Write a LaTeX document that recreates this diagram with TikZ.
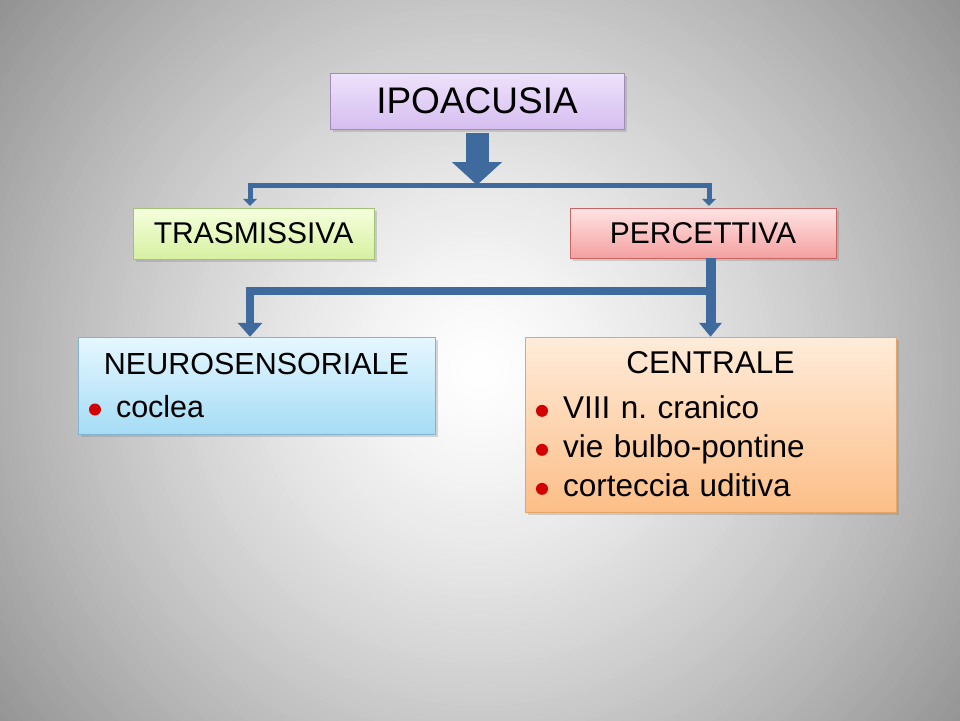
\documentclass[tikz,border=0pt]{standalone}
\usepackage{fontspec}
\setmainfont{Liberation Sans}
\usetikzlibrary{arrows.meta,positioning,shadows}

\definecolor{arrowblue}{RGB}{62,106,158}
\definecolor{dotred}{RGB}{210,0,0}
\definecolor{ipotop}{RGB}{238,226,251}
\definecolor{ipobot}{RGB}{214,190,240}
\definecolor{ipoline}{RGB}{160,140,185}
\definecolor{trastop}{RGB}{246,255,222}
\definecolor{trasbot}{RGB}{214,240,160}
\definecolor{trasline}{RGB}{160,195,120}
\definecolor{perctop}{RGB}{255,228,228}
\definecolor{percbot}{RGB}{244,160,160}
\definecolor{percline}{RGB}{200,100,100}
\definecolor{neurotop}{RGB}{230,247,255}
\definecolor{neurobot}{RGB}{165,220,245}
\definecolor{neuroline}{RGB}{130,180,210}
\definecolor{centrtop}{RGB}{255,236,218}
\definecolor{centrbot}{RGB}{252,190,135}
\definecolor{centrline}{RGB}{230,165,100}

\newcommand{\rdot}{\tikz[baseline=-8pt]\fill[dotred] (0,0) circle[radius=6pt];\hspace{15pt}}

\tikzset{
    box/.style={
           rectangle,
           draw, thin,
           inner sep=2pt,
           text centered,
           drop shadow={shadow xshift=3pt, shadow yshift=-3pt, opacity=0.3},
           },
    listbox/.style={
           box,
           align=left,
           inner xsep=11pt,
           },
    link/.style={draw=arrowblue, line width=5pt, -{Triangle[width=14pt,length=7pt]}},
    thicklink/.style={draw=arrowblue, line width=8pt, -{Triangle[width=24pt,length=14pt]}},
}

\begin{document}
\begin{tikzpicture}[x=1pt, y=1pt]
        % slide background: light centre, grey towards the edges
        \useasboundingbox (0,0) rectangle (960,-720);
        \begin{scope}
            \clip (0,0) rectangle (960,-720);
            \foreach \r in {726,720,...,6} {
                \pgfmathsetmacro\g{42*(\r/600)^1.3}
                \fill[black!\g] (480,-370) circle (\r pt);
            }
        \end{scope}

        \node[box, draw=ipoline, top color=ipotop, bottom color=ipobot, minimum width=294pt, minimum height=56pt, font=\fontsize{37}{44}\selectfont] (ipo) at (477,-101) {IPOACUSIA};
        \node[box, draw=trasline, top color=trastop, bottom color=trasbot, below of = ipo, node distance=132.5pt, xshift=-223.5pt, minimum width=241pt, minimum height=51pt, font=\fontsize{30}{36}\selectfont] (tras) {TRASMISSIVA};
        \node[box, draw=percline, top color=perctop, bottom color=percbot, below of = ipo, node distance=132pt, xshift=226pt, minimum width=266pt, minimum height=50pt, font=\fontsize{30}{36}\selectfont] (perc) {PERCETTIVA};
        \node[listbox, draw=neuroline, top color=neurotop, bottom color=neurobot, below of = tras, node distance=152pt, xshift=3pt, text width=335pt, minimum height=97pt, font=\fontsize{30.5}{39}\selectfont] (neuro)
            {\makebox[\hsize]{NEUROSENSORIALE}\\[4pt] \rdot coclea};
        \node[listbox, draw=centrline, top color=centrtop, bottom color=centrbot, below of = perc, node distance=191.5pt, xshift=7.5pt, text width=349pt, minimum height=175pt, font=\fontsize{31.5}{39}\selectfont] (centr)
            {\makebox[\hsize]{CENTRALE}\\[6pt] \rdot VIII n.\ cranico\\ \rdot vie bulbo-pontine\\ \rdot corteccia uditiva};

        \coordinate (fork1) at (477,-185);
        \coordinate (fork2) at (712,-291);

        \draw[draw=arrowblue, line width=23pt, -{Triangle[width=49pt,length=23pt]}] ([yshift=-4pt]ipo.south) -- (fork1);
        \draw[link, shorten >=2pt] (fork1) -| ([xshift=-3.5pt]tras.north);
        \draw[link, shorten >=2pt] (fork1) -| ([xshift=6pt]perc.north);
        \draw[draw=arrowblue, line width=10pt, -{Triangle[width=22pt,length=14pt]}] (centr.north |- perc.south) -- (centr.north);
        \draw[thicklink] (fork2) -| ([xshift=-6.5pt]neuro.north);
    \end{tikzpicture}
\end{document}
